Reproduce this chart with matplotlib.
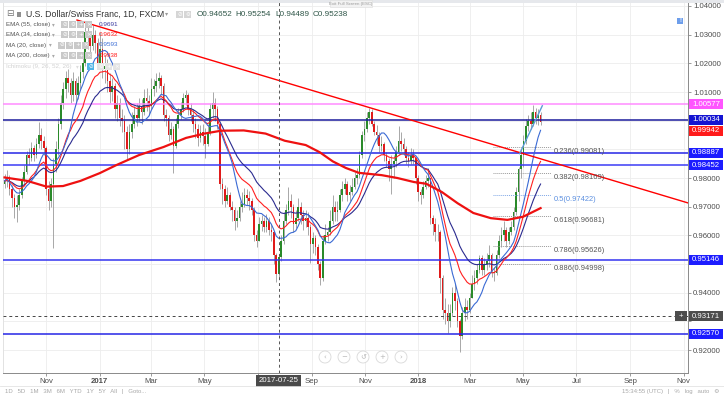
import numpy as np
import pandas as pd
import matplotlib
matplotlib.use("Agg")
import matplotlib.pyplot as plt
from matplotlib.patches import Rectangle, Ellipse
from matplotlib.transforms import blended_transform_factory as blend

plt.rcParams['font.family'] = ['Liberation Sans', 'DejaVu Sans']

W, H = 724, 394

# daily-ish candles (one every ~2 trading days), Sep 2016 .. May 2018
first_open = 0.9780
closes = [
    0.9790, 0.9805, 0.9760, 0.9730, 0.9700, 0.9705,
    0.9740, 0.9790, 0.9820, 0.9880, 0.9870, 0.9905, 0.9880, 0.9920, 0.9950, 0.9930, 0.9905,
    0.9760, 0.9720, 0.9780, 0.9850, 0.9900, 0.9990, 1.0060, 1.0110, 1.0150, 1.0130, 1.0090,
    1.0140, 1.0090, 1.0130, 1.0170, 1.0200, 1.0310, 1.0290, 1.0260, 1.0300, 1.0270, 1.0200,
    1.0250, 1.0180, 1.0190, 1.0140, 1.0100, 1.0120, 1.0040, 1.0060, 1.0010, 1.0000, 0.9960,
    0.9900, 0.9960, 0.9990, 1.0020, 1.0010, 1.0050, 1.0030, 1.0080, 1.0070, 1.0050,
    1.0110, 1.0120, 1.0140, 1.0150, 1.0120, 1.0020, 1.0010, 0.9950, 0.9970, 0.9910, 0.9990,
    1.0020, 1.0040, 1.0080, 1.0090, 1.0040, 1.0020, 0.9990, 0.9970, 0.9940, 0.9960, 0.9945,
    0.9920, 0.9960, 1.0040, 1.0060, 1.0040, 0.9990, 0.9780, 0.9760, 0.9720, 0.9740, 0.9700,
    0.9690, 0.9650, 0.9660, 0.9700, 0.9710, 0.9740, 0.9730, 0.9720, 0.9690, 0.9600, 0.9580,
    0.9640, 0.9650, 0.9630, 0.9650, 0.9620, 0.9610, 0.9530, 0.9465, 0.95238, 0.9580, 0.9650,
    0.9690, 0.9720, 0.9700, 0.9640, 0.9660, 0.9700, 0.9670, 0.9650, 0.9660, 0.9630, 0.9570,
    0.9590, 0.9560, 0.9500, 0.9450, 0.9580, 0.9600, 0.9610, 0.9650, 0.9700, 0.9680, 0.9690,
    0.9740, 0.9760, 0.9780, 0.9740, 0.9750, 0.9770, 0.9800, 0.9810, 0.9880, 0.9950, 0.9970,
    1.0010, 1.0030, 0.9990, 0.9960, 0.9950, 0.9910, 0.9920, 0.9880, 0.9860, 0.9830, 0.9850,
    0.9860, 0.9890, 0.9930, 0.9920, 0.9900, 0.9870, 0.9860, 0.9880, 0.9870, 0.9800, 0.9750,
    0.9740, 0.9770, 0.9790, 0.9800, 0.9660, 0.9640, 0.9610, 0.9610, 0.9450, 0.9340, 0.9330,
    0.9300, 0.9330, 0.9400, 0.9370, 0.9300, 0.9250, 0.9330, 0.9350, 0.9340, 0.9380,
    0.9430, 0.9450, 0.9480, 0.9520, 0.9480, 0.9500, 0.9510, 0.9530, 0.9470, 0.9470, 0.9530,
    0.9580, 0.9600, 0.9620, 0.9580, 0.9610, 0.9630, 0.9680, 0.9750, 0.9830, 0.9880, 0.9930,
    0.9980, 1.0000, 0.9990, 1.0030, 1.0010, 1.0020, 0.99942,
]
highs = [
    0.9815, 0.9828, 0.9812, 0.9775, 0.9745, 0.9740,
    0.9760, 0.9805, 0.9845, 0.9895, 0.9905, 0.9925, 0.9915, 0.9940, 0.9996, 0.9975, 0.9945,
    0.9910, 0.9790, 0.9800, 0.9870, 0.9930, 1.0010, 1.0090, 1.0135, 1.0175, 1.0180, 1.0150,
    1.0170, 1.0150, 1.0155, 1.0195, 1.0230, 1.0344, 1.0330, 1.0305, 1.0335, 1.0315, 1.0290,
    1.0310, 1.0290, 1.0230, 1.0215, 1.0165, 1.0150, 1.0130, 1.0090, 1.0080, 1.0040, 1.0020,
    0.9980, 0.9990, 1.0030, 1.0050, 1.0060, 1.0080, 1.0075, 1.0110, 1.0115, 1.0090,
    1.0150, 1.0145, 1.0165, 1.0170, 1.0160, 1.0130, 1.0040, 1.0020, 0.9995, 0.9980, 1.0010,
    1.0045, 1.0065, 1.0095, 1.0107, 1.0095, 1.0060, 1.0040, 1.0010, 0.9990, 0.9985, 0.9990,
    0.9975, 0.9990, 1.0060, 1.0100, 1.0080, 1.0050, 0.9990, 0.9800, 0.9775, 0.9770, 0.9750,
    0.9720, 0.9700, 0.9690, 0.9720, 0.9750, 0.9765, 0.9760, 0.9755, 0.9730, 0.9700, 0.9620,
    0.9665, 0.9670, 0.9665, 0.9675, 0.9665, 0.9640, 0.9615, 0.9540, 0.95254, 0.9600, 0.9680,
    0.9710, 0.9770, 0.9745, 0.9710, 0.9690, 0.9730, 0.9715, 0.9690, 0.9690, 0.9680, 0.9640,
    0.9610, 0.9600, 0.9570, 0.9510, 0.9600, 0.9640, 0.9630, 0.9690, 0.9740, 0.9720, 0.9720,
    0.9760, 0.9790, 0.9800, 0.9790, 0.9775, 0.9800, 0.9820, 0.9835, 0.9895, 0.9965, 1.0000,
    1.0030, 1.0044, 1.0040, 1.0000, 0.9985, 0.9960, 0.9945, 0.9925, 0.9890, 0.9870, 0.9880,
    0.9880, 0.9910, 0.9980, 0.9960, 0.9940, 0.9910, 0.9890, 0.9905, 0.9900, 0.9875, 0.9810,
    0.9760, 0.9790, 0.9810, 0.9835, 0.9800, 0.9670, 0.9660, 0.9640, 0.9620, 0.9460, 0.9380,
    0.9360, 0.9360, 0.9420, 0.9430, 0.9380, 0.9310, 0.9350, 0.9380, 0.9375, 0.9400,
    0.9460, 0.9480, 0.9500, 0.9530, 0.9530, 0.9520, 0.9540, 0.9566, 0.9540, 0.9490, 0.9550,
    0.9600, 0.9630, 0.9650, 0.9630, 0.9630, 0.9650, 0.9700, 0.9770, 0.9840, 0.9900, 0.9950,
    1.0005, 1.0020, 1.0030, 1.0056, 1.0045, 1.0040, 1.0030,
]
lows = [
    0.9765, 0.9770, 0.9740, 0.9700, 0.9660, 0.9648,
    0.9690, 0.9730, 0.9775, 0.9815, 0.9845, 0.9860, 0.9860, 0.9870, 0.9905, 0.9900, 0.9880,
    0.9740, 0.9690, 0.9700, 0.9555, 0.9820, 0.9880, 0.9970, 1.0040, 1.0080, 1.0100, 1.0060,
    1.0070, 1.0060, 1.0075, 1.0110, 1.0150, 1.0190, 1.0250, 1.0225, 1.0245, 1.0235, 1.0180,
    1.0180, 1.0150, 1.0130, 1.0100, 1.0060, 1.0070, 1.0010, 1.0000, 0.9980, 0.9960, 0.9900,
    0.9865, 0.9885, 0.9940, 0.9975, 0.9980, 1.0000, 0.9990, 1.0020, 1.0035, 1.0020,
    1.0040, 1.0085, 1.0100, 1.0115, 1.0090, 1.0000, 0.9980, 0.9930, 0.9935, 0.9818, 0.9905,
    0.9975, 1.0005, 1.0030, 1.0055, 1.0020, 1.0000, 0.9960, 0.9940, 0.9910, 0.9925, 0.9915,
    0.9870, 0.9910, 0.9950, 1.0010, 1.0000, 0.9970, 0.9760, 0.9710, 0.9700, 0.9710, 0.9690,
    0.9650, 0.9620, 0.9630, 0.9650, 0.9680, 0.9700, 0.9705, 0.9690, 0.9670, 0.9580, 0.9560,
    0.9590, 0.9615, 0.9610, 0.9610, 0.9600, 0.9580, 0.9500, 0.9438, 0.94489, 0.9510, 0.9570,
    0.9640, 0.9670, 0.9660, 0.9610, 0.9625, 0.9650, 0.9640, 0.9620, 0.9630, 0.9600, 0.9504,
    0.9540, 0.9530, 0.9480, 0.9427, 0.9440, 0.9570, 0.9580, 0.9600, 0.9640, 0.9650, 0.9650,
    0.9680, 0.9720, 0.9745, 0.9720, 0.9720, 0.9740, 0.9760, 0.9780, 0.9800, 0.9870, 0.9930,
    0.9960, 0.9990, 0.9980, 0.9950, 0.9920, 0.9890, 0.9895, 0.9860, 0.9840, 0.9790, 0.9745,
    0.9800, 0.9840, 0.9880, 0.9895, 0.9880, 0.9850, 0.9840, 0.9850, 0.9850, 0.9780, 0.9720,
    0.9710, 0.9730, 0.9760, 0.9770, 0.9640, 0.9600, 0.9580, 0.9580, 0.9400, 0.9310, 0.9290,
    0.9258, 0.9280, 0.9320, 0.9340, 0.9280, 0.9194, 0.9240, 0.9300, 0.9310, 0.9330,
    0.9380, 0.9410, 0.9430, 0.9470, 0.9460, 0.9460, 0.9480, 0.9490, 0.9456, 0.9440, 0.9460,
    0.9520, 0.9560, 0.9580, 0.9560, 0.9570, 0.9600, 0.9620, 0.9670, 0.9720, 0.9800, 0.9840,
    0.9920, 0.9965, 0.9970, 0.9980, 0.9990, 0.9985, 0.9985,
]

# MA(200)
ma200_dates = ['2016-09-14', '2016-10-10', '2016-11-01', '2016-11-20', '2016-12-10',
               '2017-01-01', '2017-01-20', '2017-02-15', '2017-03-15', '2017-04-10',
               '2017-05-01', '2017-05-20', '2017-06-15', '2017-07-10', '2017-08-01',
               '2017-08-25', '2017-09-10', '2017-09-25', '2017-10-10', '2017-10-25',
               '2017-11-20', '2017-12-08', '2017-12-27', '2018-01-10', '2018-01-28',
               '2018-02-15', '2018-03-05', '2018-03-25', '2018-04-13', '2018-05-01',
               '2018-05-21']
ma200_vals = [0.9802, 0.9790, 0.9770, 0.9772, 0.9790,
              0.9817, 0.9845, 0.9880, 0.9908, 0.9940,
              0.9955, 0.9965, 0.9966, 0.9955, 0.9930,
              0.9915, 0.9890, 0.9858, 0.9835, 0.9818,
              0.9810, 0.9800, 0.9786, 0.9780, 0.9751,
              0.9712, 0.9678, 0.9660, 0.9654, 0.9665,
              0.9695]

levels = [1.00577, 1.00034, 0.98887, 0.98452, 0.95146, 0.92570]
level_colors = ['#ff8cff', '#1c1c9c', '#2626e6', '#3c3cf5', '#3434f0', '#2626e6']
level_box = ['#ff55ff', '#1414d2', '#1c1cff', '#1c1cff', '#1c1cff', '#1c1cff']
last_price = 0.99942

fib_names = ['0.236', '0.382', '0.5', '0.618', '0.786', '0.886']
fib_prices = [0.99081, 0.98169, 0.97422, 0.96681, 0.95626, 0.94998]

down_x = ['2016-12-06', '2018-11-06']
down_y = [1.0351, 0.9713]
up_x = ['2018-04-27', '2018-05-23']
up_y = [0.9885, 1.0052]

cross_date = '2017-07-25'
cross_price = 0.93171

price_ticks = [0.92, 0.94, 0.96, 0.97, 0.98, 1.01, 1.02, 1.03, 1.04]
tick_dates = ['2016-11-01', '2017-01-01', '2017-03-01', '2017-05-01', '2017-07-01',
              '2017-09-01', '2017-11-01', '2018-01-01', '2018-03-01', '2018-05-01',
              '2018-07-01', '2018-09-01', '2018-11-01']
# Jul 2017 sits under the crosshair date box
tick_labels = ['Nov', '2017', 'Mar', 'May', '', 'Sep', 'Nov', '2018', 'Mar', 'May',
               'Jul', 'Sep', 'Nov']

dates = pd.date_range('2016-09-14', '2018-05-21', periods=len(closes))
o = np.array([first_open] + closes[:-1])
c = np.array(closes)
hi = np.maximum(np.array(highs), np.maximum(o, c))
lo = np.minimum(np.array(lows), np.minimum(o, c))

s = pd.Series(closes)
ma20 = s.rolling(10, min_periods=1).mean()
ema34 = s.ewm(span=17, adjust=False).mean()
ema55 = s.ewm(span=27, adjust=False).mean()

fig = plt.figure(figsize=(W / 100, H / 100), dpi=100)
ax = fig.add_axes([3 / W, (H - 373) / H, 685 / W, 373 / H])

# pixel helpers for the chrome around the chart
def fx(x):
    return x / W

def fy(y):
    return 1 - y / H

ax.set_yticks(np.arange(0.92, 1.0401, 0.01), minor=True)
ax.grid(True, which='both', color='#ededed', lw=0.6, zorder=0)
ax.set_axisbelow(True)

for lv, col in zip(levels, level_colors):
    ax.axhline(lv, color=col, lw=1.1, zorder=4)

# candles
up = c >= o
body_bot = np.minimum(o, c)
body_h = np.maximum(np.abs(c - o), 0.0003)
ax.vlines(dates, lo, hi, color='#9a9a9a', lw=0.6, zorder=2)
ax.bar(dates, body_h, bottom=body_bot, width=1.9,
       color=np.where(up, '#2a8a2a', '#e01b1b'), linewidth=0, zorder=3)

ax.plot(dates, ema55, color='#2b2b8f', lw=0.8, zorder=5)
ax.plot(dates, ema34, color='#ff2020', lw=0.8, zorder=5)
ax.plot(dates, ma20, color='#3a6ad4', lw=0.8, zorder=5)
ax.plot(pd.to_datetime(ma200_dates), ma200_vals, color='#ee1111', lw=1.6, zorder=5)

ax.plot(pd.to_datetime(down_x), down_y, color='#ff0000', lw=1.0, zorder=6)
ax.plot(pd.to_datetime(up_x), up_y, color='#5b9bd5', lw=1.0, zorder=6)

# fibonacci levels
fib_start = pd.Timestamp('2018-03-27')
fib_end = pd.Timestamp('2018-06-02')
for name, p in zip(fib_names, fib_prices):
    col = '#7fa7e6' if name == '0.5' else '#9a9a9a'
    tcol = '#5b8fe0' if name == '0.5' else '#555555'
    ax.plot([fib_start, fib_end], [p, p], color=col, lw=0.7, ls=(0, (1, 1)), zorder=4)
    ax.text(pd.Timestamp('2018-06-05'), p - 0.00157, f'{name}({p:.5f})', color=tcol,
            fontsize=5.4, ha='left', va='center', zorder=7)

# crosshair
ax.axvline(pd.Timestamp(cross_date), color='#555555', lw=0.7, ls=(0, (3, 3)), zorder=8)
ax.axhline(cross_price, color='#444444', lw=0.7, ls=(0, (3, 3)), zorder=8)

ax.set_ylim(1.04 - 367 / 2867, 1.04 + 6 / 2867)
base = pd.Timestamp('2017-01-01')
ax.set_xlim(base + pd.Timedelta(days=(3 - 99.7) / 0.873),
            base + pd.Timedelta(days=(688 - 99.7) / 0.873))

# tick labels that sit under a price box are left out, as in the screenshot
ax.yaxis.tick_right()
ax.set_yticks(price_ticks)
ax.set_yticklabels([f'{v:.5f}' for v in price_ticks])
ax.set_xticks(pd.to_datetime(tick_dates))
ax.set_xticklabels(tick_labels)
for lab in ax.get_xticklabels():
    if lab.get_text().isdigit():
        lab.set_fontweight('bold')
ax.tick_params(axis='both', which='both', colors='#8a8a8a', labelcolor='#4d4d4d',
               labelsize=5.6, length=2.2, width=0.6, pad=1.5)
ax.spines['top'].set_visible(False)
ax.spines['left'].set_color('#e2e2e2')
ax.spines['right'].set_color('#8a8a8a')
ax.spines['bottom'].set_color('#8a8a8a')
for sp in ['left', 'right', 'bottom']:
    ax.spines[sp].set_linewidth(0.7)

# price boxes on the right axis
tr_r = blend(fig.transFigure, ax.transData)
box_h = 10 / 2867

def price_box(price, fc, label=None, x0=689, w=34, shift_px=0):
    yc = price - shift_px / 2867
    ax.add_patch(Rectangle((fx(x0), yc - box_h / 2), w / W, box_h, transform=tr_r,
                           fc=fc, ec='none', clip_on=False, zorder=20))
    ax.text(fx(x0 + w / 2), yc, label if label else f'{price:.5f}', transform=tr_r,
            ha='center', va='center', color='white', fontsize=5.6, zorder=21,
            clip_on=False)

for lv, col in zip(levels, level_box):
    price_box(lv, col)
# the last-price box is pushed down below the 1.00034 box
price_box(last_price, '#ff1a1a', shift_px=8.5)
price_box(cross_price, '#4d4d4d')
price_box(cross_price, '#4d4d4d', label='+', x0=675, w=12)

# date label of the crosshair
tr_b = blend(ax.transData, fig.transFigure)
ax.text(pd.Timestamp(cross_date), fy(381), cross_date, transform=tr_b, ha='center',
        va='center', color='white', fontsize=5.6, zorder=21, clip_on=False,
        bbox=dict(boxstyle='square,pad=0.35', fc='#4a4a4a', ec='none'))

# legend block, top left
def icon_boxes(x0, y, n, fc='#c9c9c9', glyphs=None):
    for k in range(n):
        fig.add_artist(Rectangle((fx(x0 + 8 * k), fy(y + 3.5)), 7 / W, 7 / H,
                                 transform=fig.transFigure, fc=fc, ec='none'))
        if glyphs:
            fig.text(fx(x0 + 8 * k + 3.5), fy(y), glyphs[k], color='white', fontsize=4,
                     ha='center', va='center', family=['DejaVu Sans'])

fig.text(fx(9.5), fy(14), '⊟', color='#777777', fontsize=6.5, ha='center', va='center',
         family=['DejaVu Sans'])
fig.add_artist(Rectangle((fx(17), fy(16.5)), 4 / W, 5 / H, transform=fig.transFigure,
                         fc='#8f8f8f', ec='none'))
fig.text(fx(26), fy(14), 'U.S. Dollar/Swiss Franc, 1D, FXCM', color='#333333',
         fontsize=6.3, ha='left', va='center')
fig.text(fx(167), fy(14), '▾', color='#999999', fontsize=4.5, ha='center', va='center',
         family=['DejaVu Sans'])
icon_boxes(176, 14, 2, fc='#d6d6d6', glyphs=['⊘', '⚙'])
for x, t in [(197, 'O0.94652'), (235, 'H0.95254'), (275, 'L0.94489'), (313, 'C0.95238')]:
    fig.text(fx(x), fy(14), t, color='#2f5648', fontsize=5.9, ha='left', va='center')

rows = [('EMA (55, close)', 24.3, 53, 61, '0.9691', '#3a3aa0'),
        ('EMA (34, close)', 34.3, 53, 61, '0.9632', '#ff1a1a'),
        ('MA (20, close)', 45.0, 50, 58, '0.9593', '#3d6fd6'),
        ('MA (200, close)', 55.7, 53, 61, '0.9938', '#ff1a1a')]
for name, y, xa, xb, val, vcol in rows:
    fig.text(fx(6), fy(y), name, color='#555555', fontsize=4.5, ha='left', va='center')
    fig.text(fx(xa), fy(y), '▾', color='#aaaaaa', fontsize=4, ha='center', va='center',
             family=['DejaVu Sans'])
    icon_boxes(xb, y, 4, glyphs=['⊘', '⚙', '+', '×'])
    fig.text(fx(99), fy(y), val, color=vcol, fontsize=4.6, ha='left', va='center')

fig.text(fx(6), fy(66.3), 'Ichimoku (9, 26, 52, 26)', color='#d2d2d2', fontsize=4.5,
         ha='left', va='center')
fig.text(fx(77), fy(66.3), '▾', color='#dddddd', fontsize=4, ha='center', va='center',
         family=['DejaVu Sans'])
icon_boxes(87, 66.3, 1, fc='#4fb3e6', glyphs=['⊘'])
icon_boxes(97, 66.3, 3, fc='#e4e4e4', glyphs=['⚙', '+', '×'])

# small chrome: tooltip, alert icon, zoom buttons, bottom toolbar
fig.add_artist(Rectangle((0, fy(2.5)), 1, 2.5 / H, transform=fig.transFigure,
                         fc='#e6e8ec', ec='none'))
fig.add_artist(Rectangle((fx(330), fy(7)), 42 / W, 7 / H, transform=fig.transFigure,
                         fc='#f2f2f2', ec='#dddddd', lw=0.4))
fig.text(fx(351), fy(3.5), 'Exit Full Screen (ESC)', color='#9a9a9a', fontsize=3.2,
         ha='center', va='center')
fig.add_artist(Rectangle((fx(677), fy(24)), 6 / W, 6 / H, transform=fig.transFigure,
                         fc='#6d9eeb', ec='none'))
fig.text(fx(680), fy(21), '!', color='white', fontsize=4.5, ha='center', va='center',
         fontweight='bold')
for x, g in zip([325, 344, 363, 382, 401], ['‹', '−', '↺', '+', '›']):
    fig.add_artist(Ellipse((fx(x), fy(357)), 12 / W, 12 / H, transform=fig.transFigure,
                           fc='white', ec='#d4d4d4', lw=0.6, alpha=0.9))
    fig.text(fx(x), fy(357), g, color='#b8b8b8', fontsize=5, ha='center', va='center',
             family=['DejaVu Sans'])
fig.add_artist(plt.Line2D([0, 1], [fy(386), fy(386)], transform=fig.transFigure,
                          color='#e3e3e3', lw=0.6))
fig.text(fx(5), fy(392), '1D   5D   1M   3M   6M   YTD   1Y   5Y   All   |   Goto...',
         color='#a8a8a8', fontsize=4.3, ha='left', va='center')
fig.text(fx(720), fy(392), '15:34:55 (UTC)   |   %   log   auto   ⚙', color='#a8a8a8',
         fontsize=4.3, ha='right', va='center', family=['Liberation Sans', 'DejaVu Sans'])

fig.savefig('out.png', dpi=100)
